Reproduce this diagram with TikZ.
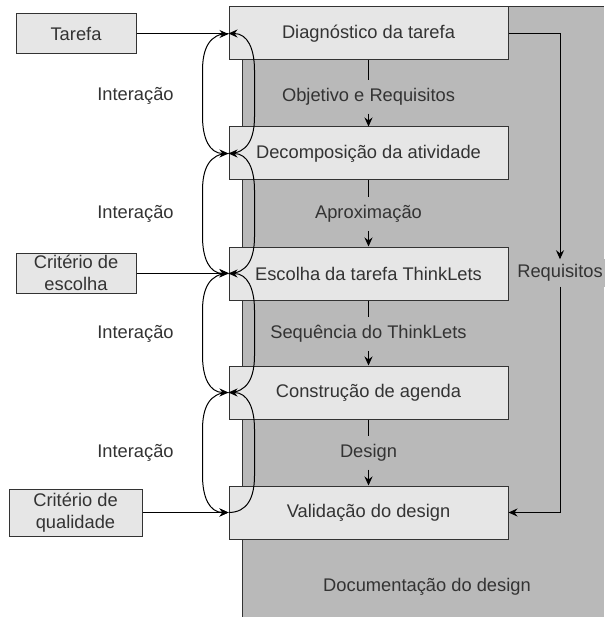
\documentclass[tikz,border=0pt]{standalone}
\usepackage{fontspec}
\setmainfont{Liberation Sans}
\usetikzlibrary{arrows.meta,calc}
\definecolor{txt}{HTML}{333333}
\definecolor{boxfill}{HTML}{E6E6E6}
\definecolor{area}{HTML}{B9B9B9}
\begin{document}
\begin{tikzpicture}[x=1pt,y=-1pt,
  font=\fontsize{18.3}{22}\selectfont, text=txt,
  stage/.style={draw=txt, fill=boxfill, line width=1pt, minimum width=279pt, minimum height=53pt, inner sep=0pt},
  inbox/.style={draw=txt, fill=boxfill, line width=1pt, inner sep=0pt, align=center},
  lbl/.style={fill=area, inner xsep=3pt, inner ysep=8pt},
  plain/.style={text=txt},
  arr/.style={-{Stealth[length=9pt,width=8pt,inset=3pt]}, line width=1pt, draw=black},
  sarr/.style={-{Stealth[length=9pt,width=8pt,inset=3pt]}, line width=1pt, draw=black},
  ln/.style={line width=1pt, draw=black}]
\useasboundingbox (0,0) rectangle (604,617);
% background area
\fill[area] (242,7) rectangle (604,617);
\draw[txt, line width=1pt] (242,617) -- (242,7) -- (604,7);
% stages
\node[stage] (b1) at (368.5,33.5) {Diagnóstico da tarefa};
\node[stage] (b2) at (368.5,153.5) {Decomposição da atividade};
\node[stage] (b3) at (368.5,273.5) {Escolha da tarefa ThinkLets};
\node[stage] (b4) at (368.5,392.5) {Construção de agenda};
\node[stage] (b5) at (368.5,512.5) {Validação do design};
% inputs
\node[inbox, minimum width=120pt, minimum height=40pt] (t) at (76,34) {Tarefa};
\node[inbox, minimum width=120pt, minimum height=40pt] (ce) at (76,273) {Critério de\\escolha};
\node[inbox, minimum width=133pt, minimum height=47pt] (cq) at (75.5,512.5) {Critério de\\qualidade};
% labels between stages
\node[lbl] (l1) at (368.5,97) {Objetivo e Requisitos};
\node[lbl] (l2) at (368.5,214) {Aproximação};
\node[lbl] (l3) at (368.5,334) {Sequência do ThinkLets};
\node[lbl] (l4) at (368.5,453) {Design};
\foreach \a/\l/\b in {b1/l1/b2, b2/l2/b3, b3/l3/b4, b4/l4/b5} {
  \draw[ln] (\a.south) -- (\l.north);
  \draw[sarr] (\l.south) -- (\b.north);
}
% Requisitos
\node[lbl, inner ysep=5pt] (r) at (560,273) {Requisitos};
\draw[sarr] (b1.east) -| (r.north);
\draw[sarr] (r.south) |- (b5.east);
% Documentation label
\node[plain] (doc) at (427,587) {Documentação do design};
% Interação labels
\node[plain] (i1) at (135.5,96) {Interação};
\node[plain] (i2) at (135.5,214) {Interação};
\node[plain] (i3) at (135.5,334) {Interação};
\node[plain] (i4) at (135.5,453) {Interação};
% interaction loops
\foreach \a/\b in {b1/b2, b2/b3, b3/b4, b4/b5} {
  \draw[arr] (\a.west) .. controls ($(\a.west)+(-19,0)$) and ($(\a.west)+(-26,15)$) .. ($(\a.west)+(-26,37)$)
     -- ($(\b.west)+(-26,-37)$) .. controls ($(\b.west)+(-26,-15)$) and ($(\b.west)+(-19,0)$) .. (\b.west);
  \draw[arr] (\b.west) .. controls ($(\b.west)+(19,0)$) and ($(\b.west)+(26,-15)$) .. ($(\b.west)+(26,-37)$)
     -- ($(\a.west)+(26,37)$) .. controls ($(\a.west)+(26,15)$) and ($(\a.west)+(19,0)$) .. (\a.west);
}
% inputs to stages
\draw[arr] (t.east) -- (t.east -| b1.west);
\draw[arr] (ce.east) -- (ce.east -| b3.west);
\draw[arr] (cq.east) -- (cq.east -| b5.west);
\end{tikzpicture}
\end{document}
